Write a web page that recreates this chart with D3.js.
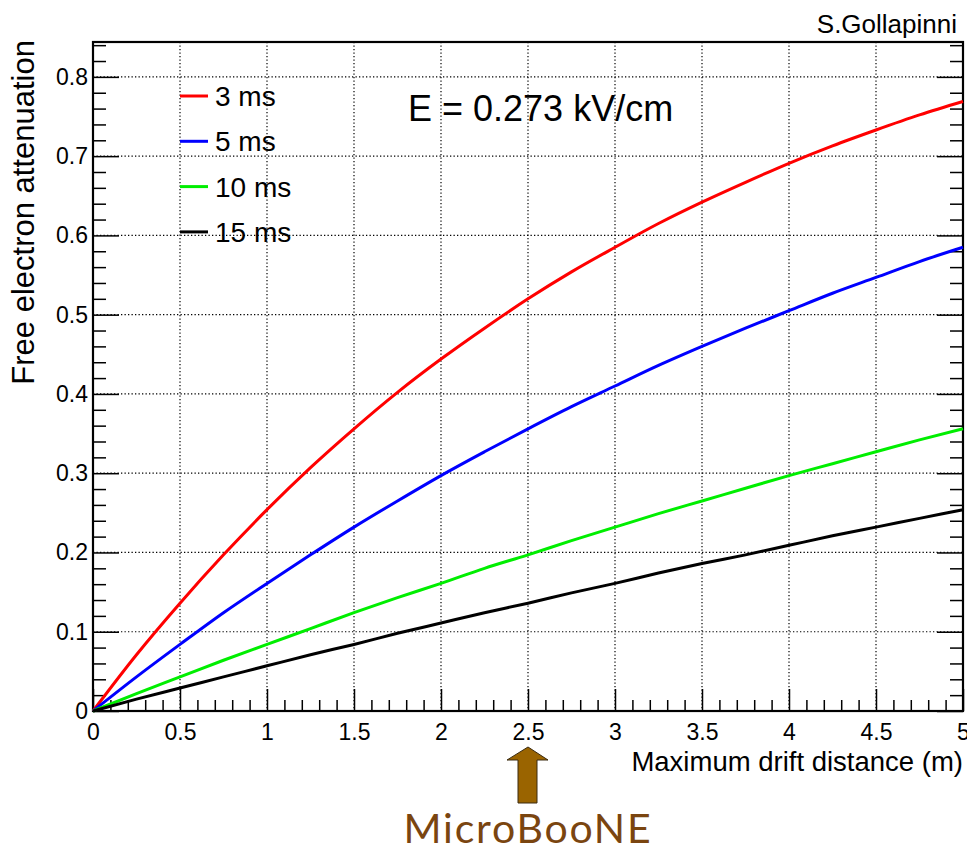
<!DOCTYPE html>
<html>
<head>
<meta charset="utf-8">
<script src="https://cdn.jsdelivr.net/npm/d3@7"></script>
<style>
  body { margin: 0; background: #fff; }
  svg { display: block; font-family: "Liberation Sans", Arial, Helvetica, sans-serif; }
</style>
</head>
<body>
<div id="chart"></div>
<script>
// drift distance samples (m)
const distance = [0, 0.25, 0.5, 0.75, 1, 1.25, 1.5, 1.75, 2, 2.25, 2.5,
                  2.75, 3, 3.25, 3.5, 3.75, 4, 4.25, 4.5, 4.75, 5];

// attenuation for each lifetime
const att3ms  = [0, 0.071, 0.136, 0.197, 0.254, 0.307, 0.356, 0.402, 0.444, 0.483, 0.520,
                 0.554, 0.585, 0.615, 0.642, 0.667, 0.691, 0.713, 0.733, 0.752, 0.769];
const att5ms  = [0, 0.043, 0.084, 0.124, 0.161, 0.197, 0.232, 0.265, 0.297, 0.327, 0.356,
                 0.384, 0.410, 0.436, 0.460, 0.483, 0.505, 0.527, 0.547, 0.567, 0.585];
const att10ms = [0, 0.022, 0.043, 0.064, 0.084, 0.104, 0.124, 0.143, 0.161, 0.180, 0.197,
                 0.215, 0.232, 0.249, 0.265, 0.281, 0.297, 0.312, 0.327, 0.342, 0.356];
const att15ms = [0, 0.015, 0.029, 0.043, 0.057, 0.071, 0.084, 0.098, 0.111, 0.124, 0.136,
                 0.149, 0.161, 0.174, 0.186, 0.197, 0.209, 0.221, 0.232, 0.243, 0.254];

const seriesNames = ["3 ms", "5 ms", "10 ms", "15 ms"];
const seriesColors = ["#ff0000", "#0000ff", "#00ee00", "#000000"];

const xMajor = [0, 0.5, 1, 1.5, 2, 2.5, 3, 3.5, 4, 4.5, 5];
const yMajor = [0, 0.1, 0.2, 0.3, 0.4, 0.5, 0.6, 0.7, 0.8];
const microBooNE = 2.5;

const width = 967, height = 850;
const margin = { top: 42, right: 4, bottom: 139, left: 93 };
const w = width - margin.left - margin.right,
      h = height - margin.top - margin.bottom;

const svg = d3.select("#chart").append("svg")
    .attr("width", width)
    .attr("height", height);

const g = svg.append("g")
    .attr("transform", `translate(${margin.left},${margin.top})`);

const x = d3.scaleLinear().domain([0, 5]).range([0, w]);
const y = d3.scaleLinear().domain([0, 0.844]).range([h, 0]);

const xMinor = d3.range(0, 50.5, 1).map(d => d / 10).filter(d => xMajor.indexOf(d) < 0);
const yMinor = d3.range(0, 42.5, 1).map(d => d / 50).filter(d => !yMajor.some(v => Math.abs(v - d) < 1e-9));

// dotted grid
g.append("g").selectAll("line")
    .data(xMajor.slice(1, -1))
    .enter().append("line")
    .attr("x1", d => x(d)).attr("x2", d => x(d))
    .attr("y1", 0).attr("y2", h)
    .attr("stroke", "#000").attr("stroke-width", 1.2)
    .attr("stroke-dasharray", "1.3,2.2");
g.append("g").selectAll("line")
    .data(yMajor.slice(1))
    .enter().append("line")
    .attr("y1", d => y(d)).attr("y2", d => y(d))
    .attr("x1", 0).attr("x2", w)
    .attr("stroke", "#000").attr("stroke-width", 1.2)
    .attr("stroke-dasharray", "1.3,2.2");

// axes: ticks drawn inward
function styleAxis(sel) {
    sel.select(".domain").remove();
    sel.selectAll(".tick line").attr("stroke", "#000").attr("stroke-width", 1.5);
    sel.selectAll("text").attr("fill", "#000").style("font-size", "23px");
}

g.append("g").attr("transform", `translate(0,${h})`)
    .call(d3.axisBottom(x).tickValues(xMajor).tickSize(-22).tickPadding(13)
        .tickFormat(d => String(d)))
    .call(styleAxis);
g.append("g").attr("transform", `translate(0,${h})`)
    .call(d3.axisBottom(x).tickValues(xMinor).tickSize(-11).tickFormat(""))
    .call(styleAxis);

g.append("g")
    .call(d3.axisLeft(y).tickValues(yMajor).tickSize(-26).tickPadding(5)
        .tickFormat(d => String(+d.toFixed(2))))
    .call(styleAxis);
g.append("g")
    .call(d3.axisLeft(y).tickValues(yMinor).tickSize(-13).tickFormat(""))
    .call(styleAxis);

g.append("g").attr("transform", `translate(${w},0)`)
    .call(d3.axisRight(y).tickValues(yMajor).tickSize(-26).tickFormat(""))
    .call(styleAxis);
g.append("g").attr("transform", `translate(${w},0)`)
    .call(d3.axisRight(y).tickValues(yMinor).tickSize(-13).tickFormat(""))
    .call(styleAxis);

// frame
g.append("rect")
    .attr("x", 0).attr("y", 0).attr("width", w).attr("height", h)
    .attr("fill", "none").attr("stroke", "#000").attr("stroke-width", 2.2);

// curves
const allSeries = [att3ms, att5ms, att10ms, att15ms];
const line = d3.line()
    .x((d, i) => x(distance[i]))
    .y(d => y(d))
    .curve(d3.curveMonotoneX);

allSeries.forEach((s, i) => {
    g.append("path")
        .datum(s)
        .attr("fill", "none")
        .attr("stroke", seriesColors[i])
        .attr("stroke-width", 3)
        .attr("d", line);
});

// legend
const legend = g.append("g").attr("transform", "translate(87,54)");
seriesNames.forEach((name, i) => {
    const row = legend.append("g").attr("transform", `translate(0,${i * 45.3})`);
    row.append("line")
        .attr("x1", 0).attr("x2", 28)
        .attr("stroke", seriesColors[i]).attr("stroke-width", 3);
    row.append("text")
        .attr("x", 35).attr("y", 10)
        .style("font-size", "28px")
        .text(name);
});

// annotations
svg.append("text")
    .attr("x", 408).attr("y", 121)
    .style("font-size", "36px")
    .text("E = 0.273 kV/cm");

svg.append("text")
    .attr("x", 957).attr("y", 33)
    .attr("text-anchor", "end")
    .style("font-size", "26px")
    .text("S.Gollapinni");

svg.append("text")
    .attr("transform", `translate(34,${margin.top - 2}) rotate(-90)`)
    .attr("text-anchor", "end")
    .style("font-size", "31px")
    .text("Free electron attenuation");

svg.append("text")
    .attr("x", margin.left + w).attr("y", 771)
    .attr("text-anchor", "end")
    .style("font-size", "27.5px")
    .text("Maximum drift distance (m)");

// MicroBooNE arrow at 2.5 m
const ax = margin.left + x(microBooNE);
svg.append("path")
    .attr("d", `M${ax},747 L${ax + 20},760 L${ax + 9},760 L${ax + 9},803 L${ax - 10},803 L${ax - 10},760 L${ax - 21},760 Z`)
    .attr("fill", "#9a6400")
    .attr("stroke", "#3a2a10")
    .attr("stroke-width", 1);

svg.append("text")
    .attr("x", ax).attr("y", 843)
    .attr("text-anchor", "middle")
    .attr("fill", "#7a4510")
    .style("font-family", "Lato, 'Open Sans', sans-serif")
    .style("font-size", "41px")
    .style("letter-spacing", "1.8px")
    .text("MicroBooNE");
</script>
</body>
</html>
